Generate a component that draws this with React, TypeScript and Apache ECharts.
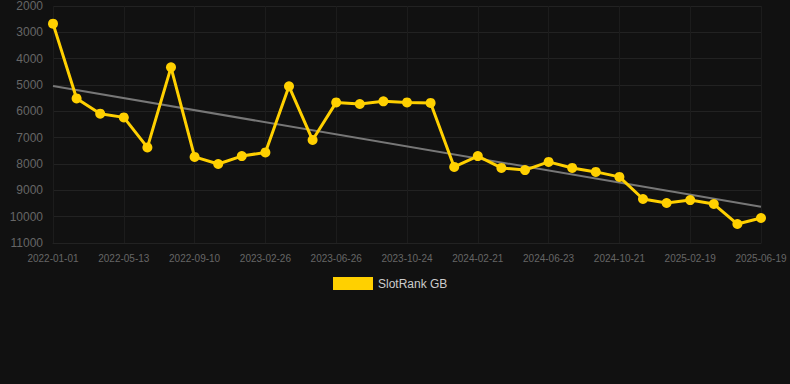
import React, { useEffect, useRef } from "react";
import * as echarts from "echarts";

const categories: string[] = [
  "2022-01-01", "2022-02-14", "2022-03-30",
  "2022-05-13", "2022-06-22", "2022-08-01",
  "2022-09-10", "2022-11-05", "2022-12-31",
  "2023-02-26", "2023-04-07", "2023-05-17",
  "2023-06-26", "2023-08-05", "2023-09-14",
  "2023-10-24", "2023-12-03", "2024-01-12",
  "2024-02-21", "2024-04-01", "2024-05-12",
  "2024-06-23", "2024-08-02", "2024-09-11",
  "2024-10-21", "2024-11-30", "2025-01-09",
  "2025-02-19", "2025-03-31", "2025-05-10",
  "2025-06-19",
];

const slotRankGB: number[] = [
  2670, 5510, 6090, 6230, 7370, 4330, 7730, 8000, 7700, 7560,
  5050, 7090, 5660, 5720, 5620, 5660, 5680, 8110, 7700, 8150,
  8230, 7920, 8150, 8300, 8490, 9330, 9480, 9370, 9520, 10280,
  10050,
];

const trendStart = 5040;
const trendEnd = 9620;

export default function App() {
  const ref = useRef<HTMLDivElement>(null);
  useEffect(() => {
    if (!ref.current) return;
    const chart = echarts.init(ref.current, null, { renderer: "svg" });
    const trend = categories.map((_, i) =>
      i === 0 ? trendStart : i === categories.length - 1 ? trendEnd : null
    );
    chart.setOption({
      animation: false,
      backgroundColor: "#111111",
      grid: { left: 53, right: 29, top: 6, bottom: 141, containLabel: false },
      legend: {
        top: 272,
        left: 328,
        itemWidth: 40,
        itemHeight: 13,
        itemGap: 10,
        data: [{ name: "SlotRank GB", icon: "rect" }],
        textStyle: { color: "#cccccc", fontSize: 12, fontFamily: "Arial, Liberation Sans, sans-serif" },
      },
      xAxis: {
        type: "category",
        data: categories,
        boundaryGap: false,
        axisLine: { show: true, lineStyle: { color: "#222222" } },
        axisTick: { show: false },
        axisLabel: {
          interval: 2,
          color: "#666666",
          fontSize: 10,
          margin: 10,
          fontFamily: "Arial, Liberation Sans, sans-serif",
        },
        splitLine: { show: true, interval: 2, lineStyle: { color: "#1c1c1c" } },
      },
      yAxis: {
        type: "value",
        inverse: true,
        min: 2000,
        max: 11000,
        interval: 1000,
        axisLine: { show: false },
        axisTick: { show: false },
        axisLabel: {
          color: "#666666",
          fontSize: 12,
          margin: 10,
          formatter: (v: number) => String(v),
          fontFamily: "Arial, Liberation Sans, sans-serif",
        },
        splitLine: { show: true, lineStyle: { color: "#222222" } },
      },
      series: [
        {
          name: "Trend",
          type: "line",
          data: trend,
          connectNulls: true,
          showSymbol: false,
          symbol: "none",
          lineStyle: { color: "#777777", width: 2 },
          itemStyle: { color: "#777777" },
          z: 3,
          silent: true,
        },
        {
          name: "SlotRank GB",
          type: "line",
          data: slotRankGB,
          symbol: "circle",
          symbolSize: 10,
          lineStyle: { color: "#FFD000", width: 3 },
          itemStyle: { color: "#FFD000" },
          z: 4,
        },
      ],
    });
    return () => chart.dispose();
  }, []);
  return (
    <div
      ref={ref}
      style={{ position: "fixed", left: 0, top: 0, width: 790, height: 384 }}
    />
  );
}
